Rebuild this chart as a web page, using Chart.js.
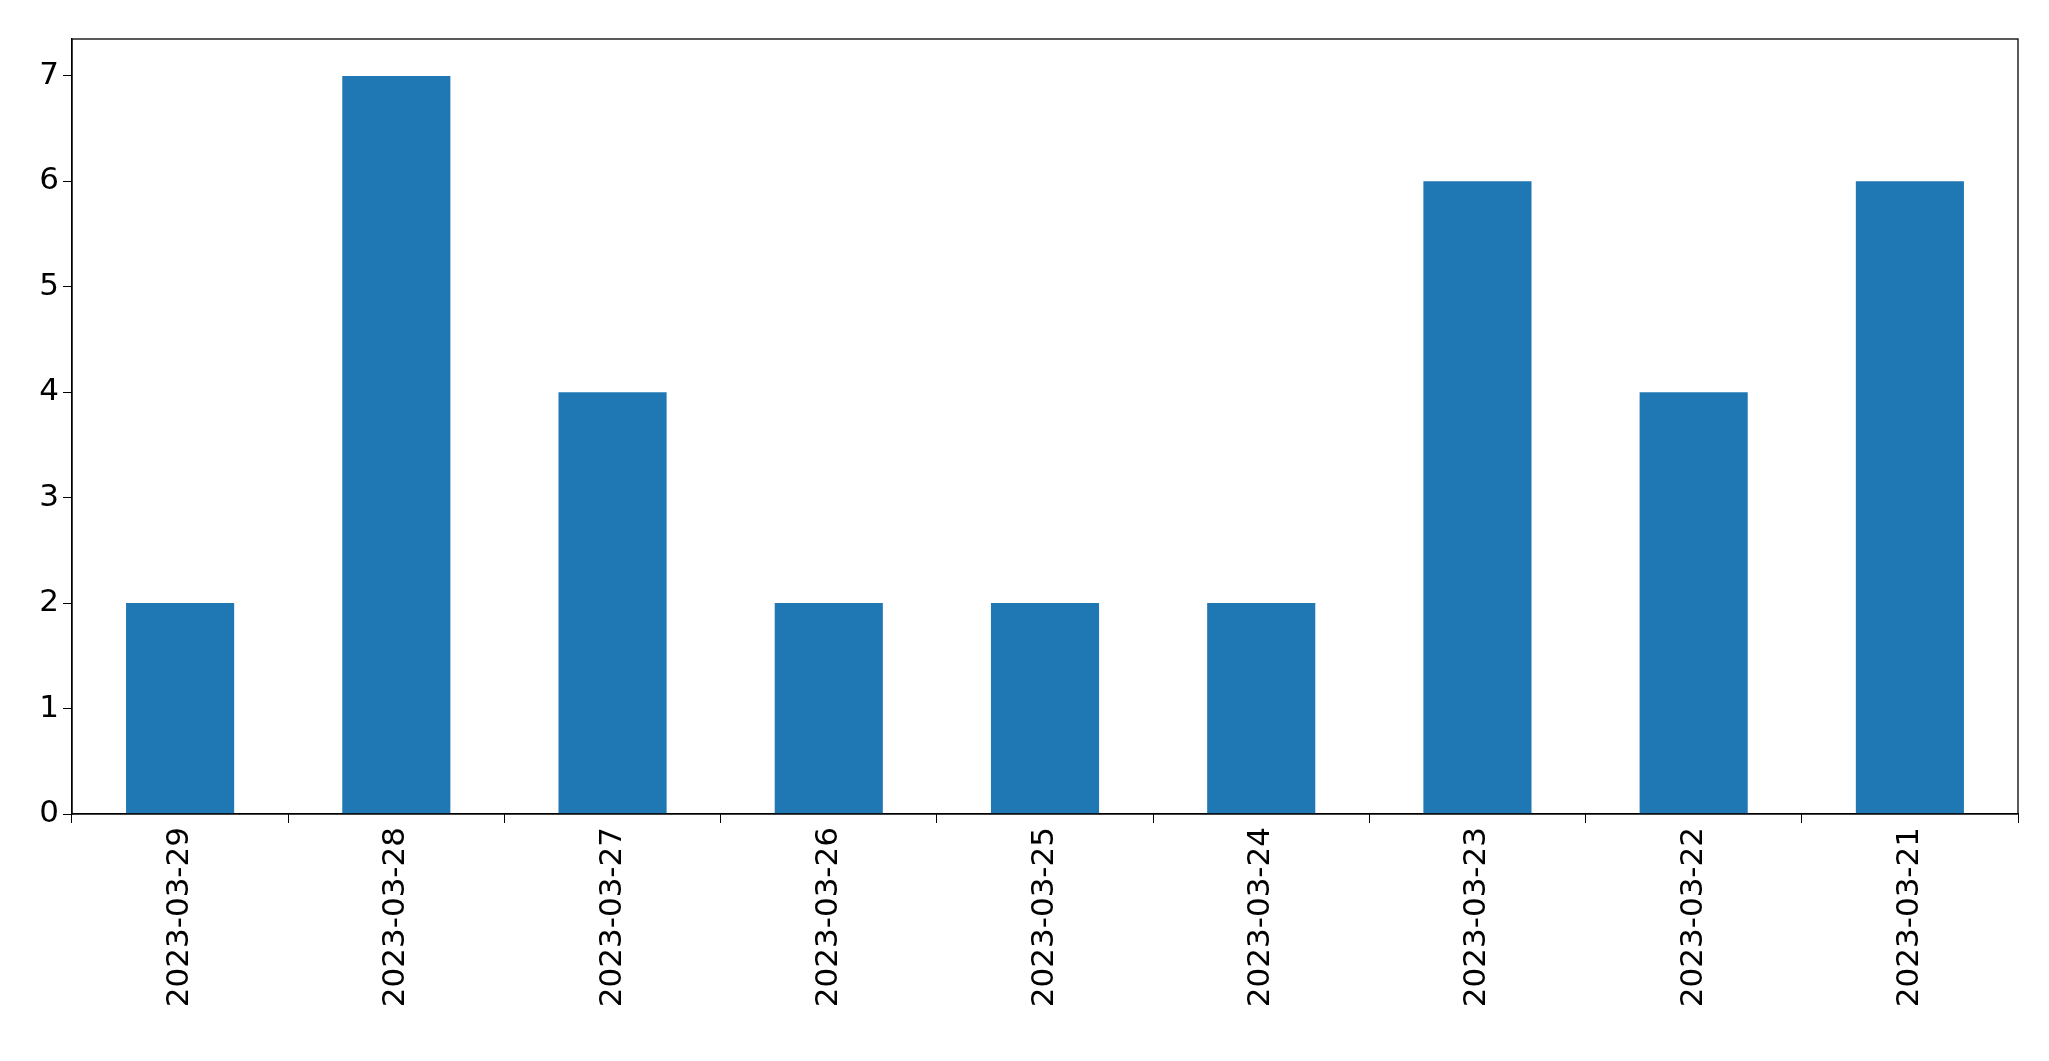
<!DOCTYPE html>
<html>
<head>
<meta charset="utf-8">
<script src="https://cdn.jsdelivr.net/npm/chart.js@4/dist/chart.umd.min.js"></script>
<style>
  html, body { margin: 0; padding: 0; background: #fff; }
  #wrap { width: 2049px; height: 1061px; }
</style>
</head>
<body>
<div id="wrap"><canvas id="chart"></canvas></div>
<script>
const categories = ["2023-03-29", "2023-03-28", "2023-03-27", "2023-03-26", "2023-03-25",
  "2023-03-24", "2023-03-23", "2023-03-22", "2023-03-21"]
const counts = [2, 7, 4, 2, 2, 2, 6, 4, 6]
const yTicks = [0, 1, 2, 3, 4, 5, 6, 7]

// top and right frame lines, matplotlib style
const frame = {
  id: "frame",
  afterDraw(chart) {
    const { ctx, chartArea: a } = chart
    ctx.save()
    ctx.strokeStyle = "#000"
    ctx.lineWidth = 1.3
    ctx.strokeRect(a.left, a.top, a.right - a.left, a.bottom - a.top)
    ctx.restore()
  },
}

const font = { family: "DejaVu Sans", size: 31 }

new Chart(document.getElementById("chart"), {
  type: "bar",
  data: {
    labels: categories,
    datasets: [{
      data: counts,
      backgroundColor: "#1f77b4",
      categoryPercentage: 1,
      barPercentage: 0.5,
    }],
  },
  options: {
    responsive: true,
    maintainAspectRatio: false,
    animation: false,
    layout: { padding: { top: 39, right: 31, left: 0, bottom: 0 } },
    plugins: { legend: { display: false }, tooltip: { enabled: false } },
    scales: {
      x: {
        grid: { drawOnChartArea: false, drawTicks: true, tickLength: 9, color: "#000" },
        border: { color: "#000", width: 1.3 },
        ticks: { color: "#000", font: font, minRotation: 90, maxRotation: 90, padding: 4 },
        afterFit(axis) { axis.height = 247 },
      },
      y: {
        min: 0,
        max: 7.35,
        grid: { drawOnChartArea: false, drawTicks: true, tickLength: 9, color: "#000" },
        border: { color: "#000", width: 1.3 },
        ticks: { color: "#000", font: font, padding: 4 },
        afterBuildTicks(axis) { axis.ticks = yTicks.map((v) => ({ value: v })) },
        afterFit(axis) { axis.width = 72 },
      },
    },
  },
  plugins: [frame],
})
</script>
</body>
</html>
